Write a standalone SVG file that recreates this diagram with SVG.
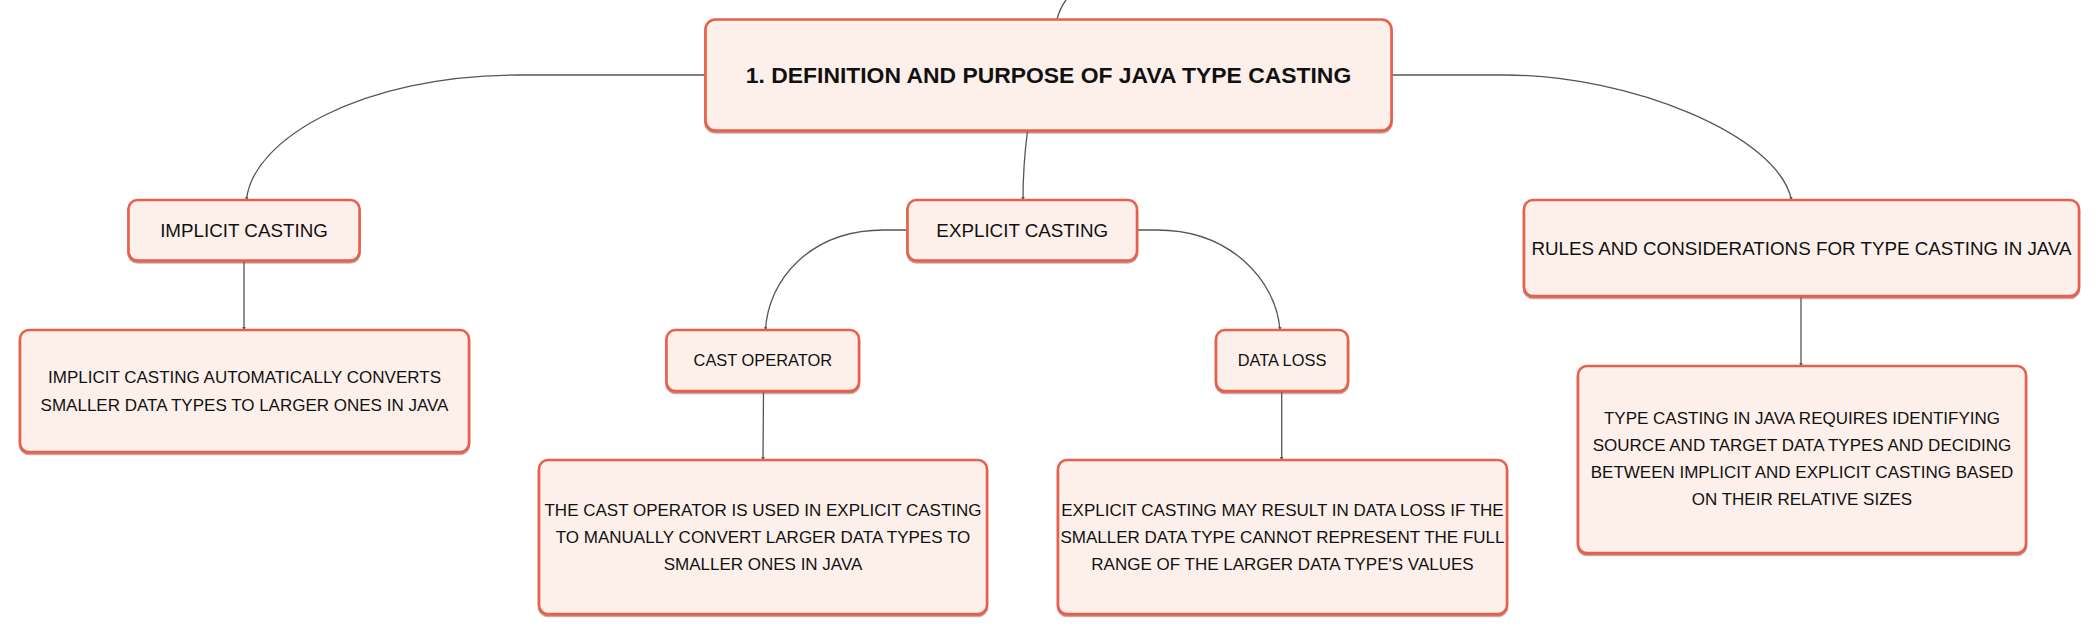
<svg xmlns="http://www.w3.org/2000/svg" width="2099" height="635" viewBox="0 0 2099 635">
<style>
.box{fill:#FDF0EB;stroke:#E8604C;stroke-width:2.6;filter:url(#sh)}
.t{font-family:"Liberation Sans",Arial,sans-serif;fill:#111;text-anchor:middle}
.root{font-size:22.9px;font-weight:bold}
.l2{font-size:18.8px}
.l3{font-size:16.4px}
.d{font-size:17px}
.c{fill:none;stroke:#555;stroke-width:1.3;marker-end:url(#ah)}
</style>
<defs>
<filter id="sh" x="-5%" y="-10%" width="110%" height="125%">
<feDropShadow dx="0" dy="1.6" stdDeviation="0.4" flood-color="#a04a3c" flood-opacity="0.7"/>
</filter>
<marker id="ah" viewBox="0 0 6 6" refX="5" refY="3" markerWidth="3.5" markerHeight="3.5" orient="auto" markerUnits="userSpaceOnUse">
<path d="M0 0 L6 3 L0 6 z" fill="#555"/>
</marker>
</defs>
<rect width="2099" height="635" fill="#fff"/>
<g id="connectors">
<path class="c" style="marker-end:none" d="M1057 19 Q1060 8 1066 0"/>
<path class="c" d="M705 75 L519 75 C360 75 252 140 246.5 200"/>
<path class="c" d="M1392 75 L1505 75 C1630 75 1778 135 1791.5 200"/>
<path class="c" d="M1027.5 131 Q1023 165 1023 200"/>
<path class="c" d="M907.5 230 L884 230 C810 230 768 280 765.5 330"/>
<path class="c" d="M1137 230 L1157 230 C1230 230 1276 280 1280 330"/>
<path class="c" d="M244 261 L244 330"/>
<path class="c" d="M763.5 391 L763 460"/>
<path class="c" d="M1281.7 391 L1281.7 460"/>
<path class="c" d="M1801 296 L1801 366"/>
</g>
<g id="root">
<rect class="box" x="705.5" y="19.5" width="686" height="111" rx="10"/>
<text class="t root" x="1048.5" y="83.3">1. DEFINITION AND PURPOSE OF JAVA TYPE CASTING</text>
</g>
<g id="implicit">
<rect class="box" x="128.5" y="200" width="231" height="60.5" rx="9"/>
<text class="t l2" x="244" y="236.8">IMPLICIT CASTING</text>
</g>
<g id="explicit">
<rect class="box" x="907.5" y="200" width="229.5" height="60.5" rx="9"/>
<text class="t l2" x="1022.3" y="236.8">EXPLICIT CASTING</text>
</g>
<g id="rules">
<rect class="box" x="1524" y="200" width="555" height="96" rx="9"/>
<text class="t l2" x="1801.5" y="254.7">RULES AND CONSIDERATIONS FOR TYPE CASTING IN JAVA</text>
</g>
<g id="implicit-desc">
<rect class="box" x="20" y="330" width="449" height="122" rx="9"/>
<text class="t d" x="244.5" y="383.3">IMPLICIT CASTING AUTOMATICALLY CONVERTS</text>
<text class="t d" x="244.5" y="410.6">SMALLER DATA TYPES TO LARGER ONES IN JAVA</text>
</g>
<g id="cast-operator">
<rect class="box" x="666.5" y="330" width="192.5" height="61" rx="9"/>
<text class="t l3" x="762.8" y="365.9">CAST OPERATOR</text>
</g>
<g id="data-loss">
<rect class="box" x="1216" y="330" width="132" height="61" rx="9"/>
<text class="t l3" x="1282" y="365.9">DATA LOSS</text>
</g>
<g id="cast-desc">
<rect class="box" x="539" y="460" width="448" height="154" rx="9"/>
<text class="t d" x="763" y="515.5">THE CAST OPERATOR IS USED IN EXPLICIT CASTING</text>
<text class="t d" x="763" y="542.5">TO MANUALLY CONVERT LARGER DATA TYPES TO</text>
<text class="t d" x="763" y="569.5">SMALLER ONES IN JAVA</text>
</g>
<g id="data-loss-desc">
<rect class="box" x="1058" y="460" width="449" height="154" rx="9"/>
<text class="t d" x="1282.5" y="515.5">EXPLICIT CASTING MAY RESULT IN DATA LOSS IF THE</text>
<text class="t d" x="1282.5" y="542.5">SMALLER DATA TYPE CANNOT REPRESENT THE FULL</text>
<text class="t d" x="1282.5" y="569.5">RANGE OF THE LARGER DATA TYPE'S VALUES</text>
</g>
<g id="rules-desc">
<rect class="box" x="1578" y="366" width="448" height="187" rx="9"/>
<text class="t d" x="1802" y="424.3">TYPE CASTING IN JAVA REQUIRES IDENTIFYING</text>
<text class="t d" x="1802" y="451.3">SOURCE AND TARGET DATA TYPES AND DECIDING</text>
<text class="t d" x="1802" y="478.3">BETWEEN IMPLICIT AND EXPLICIT CASTING BASED</text>
<text class="t d" x="1802" y="505.3">ON THEIR RELATIVE SIZES</text>
</g>
</svg>
